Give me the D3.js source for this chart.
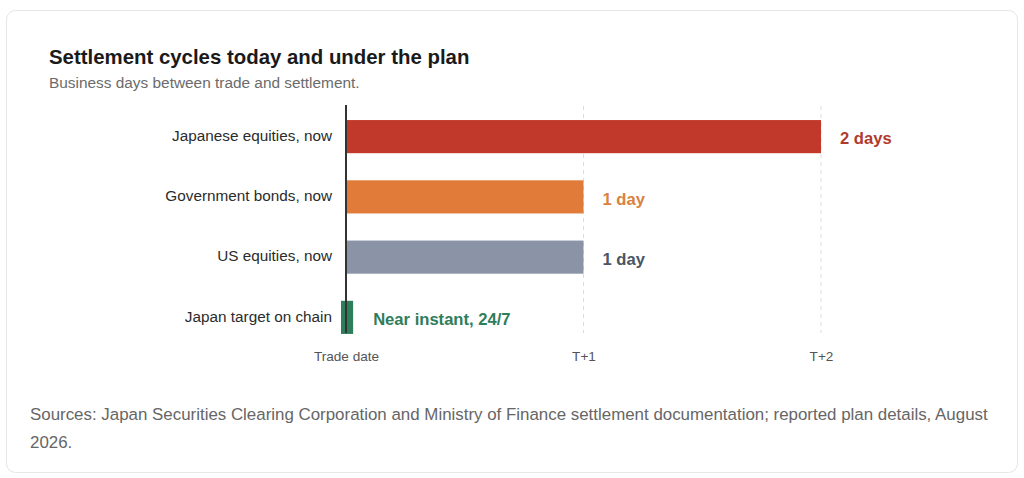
<!DOCTYPE html>
<html><head><meta charset="utf-8">
<script src="https://cdn.jsdelivr.net/npm/d3@7"></script>
<style>
html,body{margin:0;padding:0;background:#fff;}
svg{display:block;font-family:"Liberation Sans",Arial,sans-serif;}
</style></head>
<body>
<svg id="chart" width="1024" height="478"></svg>
<script>
const categories = ["Japanese equities, now","Government bonds, now","US equities, now","Japan target on chain"];
const values = [2, 1, 1, 0.03];
const valueLabels = ["2 days","1 day","1 day","Near instant, 24/7"];
const barColors = ["#c0392b","#e07b39","#8a94a6","#2e7d5b"];
const labelColors = ["#b03a2e","#d9823d","#4a5565","#2e7d5b"];
const tickValues = [0,1,2];
const tickLabels = ["Trade date","T+1","T+2"];

const svg = d3.select("#chart");
svg.append("rect").attr("x",6.5).attr("y",10.5).attr("width",1011).attr("height",462)
  .attr("rx",9).attr("fill","#fff").attr("stroke","#e6e6e6");

svg.append("text").attr("x",49).attr("y",64).attr("font-size",20.4).attr("font-weight","bold")
  .attr("fill","#1a1a1a").text("Settlement cycles today and under the plan");
svg.append("text").attr("x",49).attr("y",88).attr("font-size",15.4).attr("fill","#6b6b6b")
  .text("Business days between trade and settlement.");

const x = d3.scaleLinear().domain([0,2]).range([346,821]);
const y = d3.scaleBand().domain(categories).range([108,346]).paddingInner(0.45).paddingOuter(0.2);

// grid
svg.append("g").selectAll("line").data(tickValues.filter(d=>d>0)).join("line")
  .attr("x1",d=>x(d)).attr("x2",d=>x(d)).attr("y1",106).attr("y2",333)
  .attr("stroke","#dcdcdc").attr("stroke-dasharray","4,4");

// bars
svg.append("g").selectAll("rect").data(categories).join("rect")
  .attr("x",(d,i)=> values[i] < 0.1 ? x(0)-5 : x(0))
  .attr("y",d=>y(d))
  .attr("width",(d,i)=> values[i] < 0.1 ? x(values[i])-x(0)+5 : x(values[i])-x(0))
  .attr("height",y.bandwidth())
  .attr("fill",(d,i)=>barColors[i]);

// axis line
svg.append("line").attr("x1",x(0)).attr("x2",x(0)).attr("y1",105).attr("y2",333)
  .attr("stroke","#333").attr("stroke-width",2);

// category labels
svg.append("g").selectAll("text").data(categories).join("text")
  .attr("x",332).attr("y",d=>y(d)+y.bandwidth()/2-1).attr("dy","0.35em")
  .attr("text-anchor","end").attr("font-size",15.3).attr("fill","#2b2b2b").text(d=>d);

// value labels
svg.append("g").selectAll("text").data(categories).join("text")
  .attr("x",(d,i)=> values[i] < 0.1 ? x(values[i])+20 : x(values[i])+19)
  .attr("y",d=>y(d)+y.bandwidth()/2+2).attr("dy","0.35em")
  .attr("font-size",16.6).attr("font-weight","bold")
  .attr("fill",(d,i)=>labelColors[i]).text((d,i)=>valueLabels[i]);

// x axis ticks
const xAxis = d3.axisBottom(x).tickValues(tickValues).tickSize(0).tickFormat((d,i)=>tickLabels[i]);
const ax = svg.append("g").attr("transform","translate(0,348)").call(xAxis);
ax.select(".domain").remove();
ax.selectAll("text").attr("font-size",13.6).attr("fill","#555").attr("font-family","Liberation Sans, Arial, sans-serif");

// source
const src = svg.append("text").attr("x",30).attr("y",420).attr("font-size",16.9).attr("fill","#666");
src.append("tspan").attr("x",30).text("Sources: Japan Securities Clearing Corporation and Ministry of Finance settlement documentation; reported plan details, August");
src.append("tspan").attr("x",30).attr("dy",28).text("2026.");
</script>
</body></html>
